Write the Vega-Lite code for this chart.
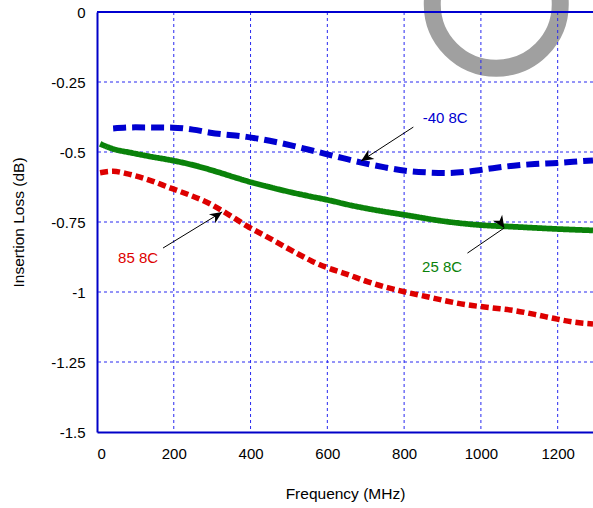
{
  "$schema": "https://vega.github.io/schema/vega-lite/v6.json",
  "width": 496,
  "height": 420,
  "autosize": {"type": "none"},
  "padding": {"left": 97, "top": 12, "right": 0, "bottom": 76},
  "config": {
    "view": {"stroke": null},
    "font": "Liberation Sans",
    "axis": {
      "labelFont": "Liberation Sans",
      "titleFont": "Liberation Sans",
      "labelFontSize": 15,
      "titleFontSize": 15.5,
      "labelColor": "#000000",
      "titleColor": "#000000",
      "titleFontWeight": "normal",
      "grid": false,
      "ticks": false,
      "domainColor": "#0000c8",
      "domainWidth": 2
    }
  },
  "datasets": {
    "curves": [
      {"f": 42, "v": -0.416, "series": "-40"},
      {"f": 100, "v": -0.412, "series": "-40"},
      {"f": 198, "v": -0.413, "series": "-40"},
      {"f": 250, "v": -0.42, "series": "-40"},
      {"f": 295, "v": -0.431, "series": "-40"},
      {"f": 390, "v": -0.446, "series": "-40"},
      {"f": 450, "v": -0.46, "series": "-40"},
      {"f": 511, "v": -0.478, "series": "-40"},
      {"f": 573, "v": -0.499, "series": "-40"},
      {"f": 641, "v": -0.522, "series": "-40"},
      {"f": 686, "v": -0.537, "series": "-40"},
      {"f": 750, "v": -0.555, "series": "-40"},
      {"f": 803, "v": -0.567, "series": "-40"},
      {"f": 860, "v": -0.573, "series": "-40"},
      {"f": 913, "v": -0.575, "series": "-40"},
      {"f": 960, "v": -0.571, "series": "-40"},
      {"f": 999, "v": -0.564, "series": "-40"},
      {"f": 1040, "v": -0.556, "series": "-40"},
      {"f": 1085, "v": -0.549, "series": "-40"},
      {"f": 1140, "v": -0.543, "series": "-40"},
      {"f": 1199, "v": -0.539, "series": "-40"},
      {"f": 1240, "v": -0.535, "series": "-40"},
      {"f": 1292, "v": -0.53, "series": "-40"},
      {"f": 8, "v": -0.471, "series": "25"},
      {"f": 42, "v": -0.489, "series": "25"},
      {"f": 90, "v": -0.503, "series": "25"},
      {"f": 138, "v": -0.516, "series": "25"},
      {"f": 203, "v": -0.532, "series": "25"},
      {"f": 260, "v": -0.55, "series": "25"},
      {"f": 313, "v": -0.571, "series": "25"},
      {"f": 360, "v": -0.591, "series": "25"},
      {"f": 404, "v": -0.609, "series": "25"},
      {"f": 455, "v": -0.627, "series": "25"},
      {"f": 503, "v": -0.643, "series": "25"},
      {"f": 550, "v": -0.657, "series": "25"},
      {"f": 600, "v": -0.671, "series": "25"},
      {"f": 660, "v": -0.69, "series": "25"},
      {"f": 704, "v": -0.702, "series": "25"},
      {"f": 803, "v": -0.725, "series": "25"},
      {"f": 913, "v": -0.749, "series": "25"},
      {"f": 999, "v": -0.761, "series": "25"},
      {"f": 1085, "v": -0.767, "series": "25"},
      {"f": 1199, "v": -0.775, "series": "25"},
      {"f": 1292, "v": -0.78, "series": "25"},
      {"f": 8, "v": -0.574, "series": "85"},
      {"f": 42, "v": -0.569, "series": "85"},
      {"f": 80, "v": -0.578, "series": "85"},
      {"f": 138, "v": -0.601, "series": "85"},
      {"f": 190, "v": -0.628, "series": "85"},
      {"f": 242, "v": -0.654, "series": "85"},
      {"f": 290, "v": -0.682, "series": "85"},
      {"f": 329, "v": -0.712, "series": "85"},
      {"f": 360, "v": -0.738, "series": "85"},
      {"f": 390, "v": -0.764, "series": "85"},
      {"f": 443, "v": -0.803, "series": "85"},
      {"f": 485, "v": -0.835, "series": "85"},
      {"f": 521, "v": -0.862, "series": "85"},
      {"f": 560, "v": -0.89, "series": "85"},
      {"f": 600, "v": -0.913, "series": "85"},
      {"f": 650, "v": -0.936, "series": "85"},
      {"f": 704, "v": -0.963, "series": "85"},
      {"f": 750, "v": -0.982, "series": "85"},
      {"f": 803, "v": -1.0, "series": "85"},
      {"f": 860, "v": -1.017, "series": "85"},
      {"f": 913, "v": -1.033, "series": "85"},
      {"f": 960, "v": -1.045, "series": "85"},
      {"f": 999, "v": -1.052, "series": "85"},
      {"f": 1050, "v": -1.06, "series": "85"},
      {"f": 1085, "v": -1.066, "series": "85"},
      {"f": 1140, "v": -1.08, "series": "85"},
      {"f": 1199, "v": -1.097, "series": "85"},
      {"f": 1240, "v": -1.107, "series": "85"},
      {"f": 1292, "v": -1.114, "series": "85"}
    ],
    "arrows": [
      {"series": "-40", "f1": 824, "v1": -0.411, "f2": 688, "v2": -0.532},
      {"series": "25", "f1": 965, "v1": -0.861, "f2": 1061, "v2": -0.771},
      {"series": "85", "f1": 172, "v1": -0.843, "f2": 326, "v2": -0.714}
    ],
    "labels": [
      {"series": "-40", "f": 907, "v": -0.379, "text": "-40 8C"},
      {"series": "25", "f": 899, "v": -0.911, "text": "25 8C"},
      {"series": "85", "f": 107, "v": -0.879, "text": "85 8C"}
    ],
    "ring": [{"f": 1040, "v": 0.028}],
    "vgrid": [{"f": 200}, {"f": 400}, {"f": 600}, {"f": 800}, {"f": 1000}, {"f": 1200}],
    "hgrid": [{"v": -0.25}, {"v": -0.5}, {"v": -0.75}, {"v": -1.0}, {"v": -1.25}],
    "top": [{"v": 0}]
  },
  "layer": [
    {
      "data": {"name": "ring"},
      "mark": {"type": "point", "shape": "circle", "filled": false, "size": 16384, "strokeWidth": 17, "color": "#a0a0a0", "opacity": 1},
      "encoding": {
        "x": {"field": "f", "type": "quantitative", "scale": {"domain": [0, 1292], "nice": false, "zero": false},
          "axis": {"values": [0, 200, 400, 600, 800, 1000, 1200], "labelExpr": "'' + datum.value", "title": "Frequency (MHz)", "labelPadding": 14, "titlePadding": 25}},
        "y": {"field": "v", "type": "quantitative", "scale": {"domain": [-1.5, 0], "nice": false, "zero": false},
          "axis": {"values": [0, -0.25, -0.5, -0.75, -1, -1.25, -1.5], "labelExpr": "'' + datum.value", "title": "Insertion Loss (dB)", "labelPadding": 12, "titlePadding": 24}}
      }
    },
    {
      "data": {"name": "vgrid"},
      "mark": {"type": "rule", "color": "#2828f0", "strokeWidth": 1, "strokeDash": [3, 3]},
      "encoding": {"x": {"field": "f", "type": "quantitative"}}
    },
    {
      "data": {"name": "hgrid"},
      "mark": {"type": "rule", "color": "#2828f0", "strokeWidth": 1, "strokeDash": [3, 3]},
      "encoding": {"y": {"field": "v", "type": "quantitative"}}
    },
    {
      "data": {"name": "top"},
      "mark": {"type": "rule", "color": "#0000d0", "strokeWidth": 2},
      "encoding": {"y": {"field": "v", "type": "quantitative"}}
    },
    {
      "data": {"name": "curves"},
      "mark": {"type": "line", "interpolate": "monotone", "strokeCap": "butt"},
      "encoding": {
        "x": {"field": "f", "type": "quantitative"},
        "y": {"field": "v", "type": "quantitative"},
        "color": {"field": "series", "type": "nominal", "scale": {"domain": ["-40", "25", "85"], "range": ["#0000d0", "#0a820a", "#dd0000"]}, "legend": null},
        "strokeDash": {"field": "series", "type": "nominal", "scale": {"domain": ["-40", "25", "85"], "range": [[13, 6], [1, 0], [8, 4]]}, "legend": null},
        "strokeWidth": {"field": "series", "type": "nominal", "scale": {"domain": ["-40", "25", "85"], "range": [6, 5.5, 6]}, "legend": null}
      }
    },
    {
      "data": {"name": "arrows"},
      "mark": {"type": "rule", "color": "#000000", "strokeWidth": 1},
      "encoding": {
        "x": {"field": "f1", "type": "quantitative"},
        "y": {"field": "v1", "type": "quantitative"},
        "x2": {"field": "f2"},
        "y2": {"field": "v2"}
      }
    },
    {
      "data": {"name": "arrows"},
      "mark": {"type": "point", "shape": "M0,0 L-0.45,1 L0,0.7 L0.45,1 Z", "filled": true, "size": 600, "color": "#000000", "opacity": 1, "strokeWidth": 0},
      "encoding": {
        "x": {"field": "f2", "type": "quantitative"},
        "y": {"field": "v2", "type": "quantitative"},
        "angle": {"field": "series", "type": "nominal", "scale": {"domain": ["-40", "25", "85"], "range": [237, 56, 58.6]}, "legend": null}
      }
    },
    {
      "data": {"name": "labels"},
      "mark": {"type": "text", "font": "Liberation Sans", "fontSize": 15, "align": "center", "baseline": "middle"},
      "encoding": {
        "x": {"field": "f", "type": "quantitative"},
        "y": {"field": "v", "type": "quantitative"},
        "text": {"field": "text"},
        "color": {"field": "series", "type": "nominal", "scale": {"domain": ["-40", "25", "85"], "range": ["#1010d0", "#1e8a1e", "#e0204a"]}, "legend": null}
      }
    }
  ]
}
